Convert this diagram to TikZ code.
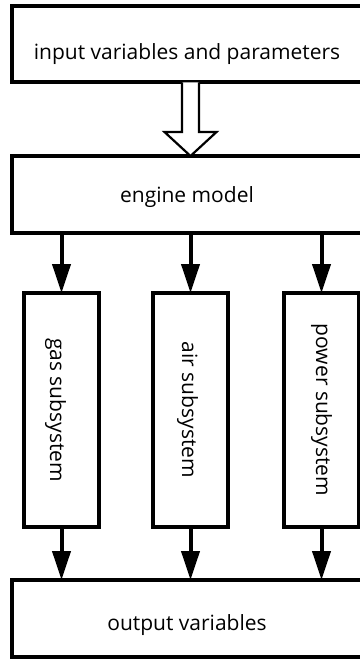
\documentclass[tikz,border=0pt]{standalone}
\usepackage{fontspec}
\setmainfont{Open Sans}
\usetikzlibrary{arrows.meta,calc}

\tikzset{
  block/.style={draw, line width=4pt, outer sep=0pt, inner sep=0pt,
    font=\fontsize{21}{24}\selectfont},
  wide/.style={block, minimum width=350pt, minimum height=76pt},
  part/.style={block, minimum width=75pt, minimum height=234pt},
  flow/.style={line width=4pt, -{Triangle[length=29pt, width=18pt]}},
  hollow/.style={line width=2.2pt, line join=miter, fill=white}
}
% text moved by #1, box keeps its size
\newcommand{\movetext}[2]{\raisebox{#1}[\height][\depth]{#2}}
% vertical label, moved sideways by #1
\newcommand{\downtext}[2]{\rotatebox{-90}{\movetext{#1}{#2}}}

\begin{document}
\begin{tikzpicture}[x=1pt, y=-1pt]
\useasboundingbox (0,0) rectangle (359,660);

% input and engine
\node[wide] (input) at (187,44.5) {\movetext{-10pt}{input variables and parameters}};
\node[wide, minimum height=77pt] (engine) at (187,194.5) {\movetext{-3pt}{engine model}};

% the three subsystems
\node[part] (gas) at (61.5,410) {\downtext{-6pt}{gas subsystem}};
\node[part] (air) at (190.5,410) {\downtext{-3pt}{air subsystem}};
\node[part] (power) at (321.5,410) {\downtext{0pt}{power subsystem}};

\node[wide, minimum height=77pt] (output) at (187,618.5) {\movetext{-7pt}{output variables}};

% big open arrow from input to engine
\coordinate (fa) at (input.south -| air);
\coordinate (fb) at (engine.north -| air);
\draw[hollow] ($(fa)+(-8.5,0)$) -- ($(fb)+(-8.5,-24)$) -- ($(fb)+(-26,-24)$)
  -- (fb) -- ($(fb)+(26,-24)$) -- ($(fb)+(8.5,-24)$) -- ($(fa)+(8.5,0)$);

% engine to subsystems, subsystems to output
\foreach \s in {gas,air,power} {
  \draw[flow] (engine.south -| \s) -- (\s.north);
  \draw[flow] (\s.south) -- (output.north -| \s);
}
\end{tikzpicture}
\end{document}
